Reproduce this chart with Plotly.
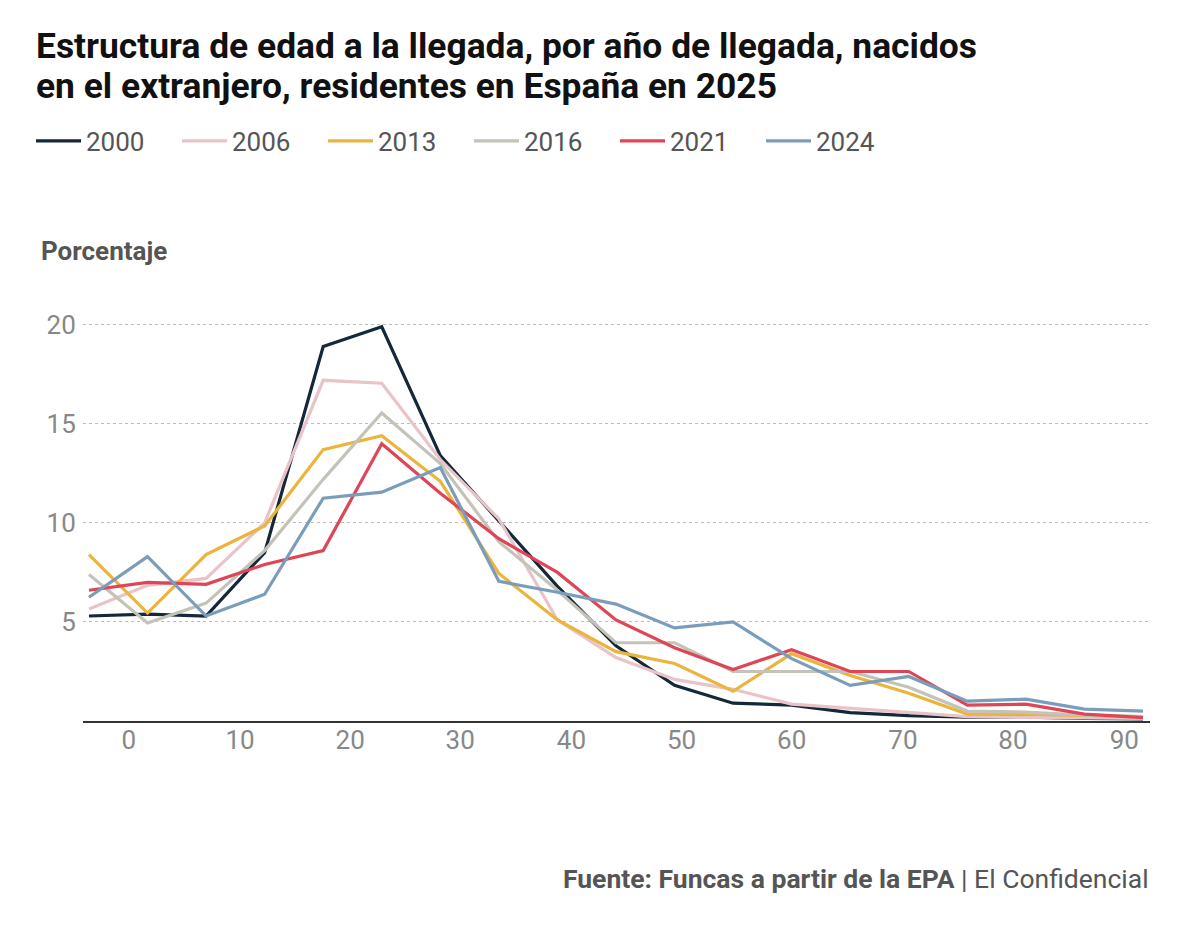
import plotly.graph_objects as go

# age at arrival (start of 5-year group)
ages = [0, 5, 10, 15, 20, 25, 30, 35, 40, 45, 50, 55, 60, 65, 70, 75, 80, 85, 90]

y2000 = [5.3, 5.4, 5.3, 8.5, 18.9, 19.9, 13.4, 10.1, 6.8, 3.8, 1.8, 0.9, 0.8, 0.42, 0.27, 0.2, 0.2, 0.13, 0.1]
y2006 = [5.65, 6.85, 7.2, 10.0, 17.2, 17.05, 13.2, 10.2, 5.1, 3.2, 2.1, 1.6, 0.85, 0.64, 0.4, 0.22, 0.18, 0.17, 0.13]
y2013 = [8.4, 5.45, 8.4, 9.85, 13.7, 14.4, 12.1, 7.45, 5.1, 3.5, 2.9, 1.5, 3.4, 2.3, 1.4, 0.35, 0.35, 0.27, 0.22]
y2016 = [7.4, 4.95, 5.95, 8.6, 12.2, 15.55, 13.0, 9.05, 6.6, 3.95, 3.95, 2.5, 2.5, 2.5, 1.7, 0.5, 0.45, 0.3, 0.22]
y2021 = [6.6, 7.0, 6.9, 7.9, 8.6, 14.0, 11.5, 9.2, 7.5, 5.1, 3.7, 2.6, 3.6, 2.5, 2.5, 0.8, 0.85, 0.35, 0.17]
y2024 = [6.25, 8.3, 5.3, 6.4, 11.25, 11.55, 12.8, 7.05, 6.5, 5.9, 4.7, 5.0, 3.15, 1.8, 2.25, 1.0, 1.1, 0.6, 0.5]

series = ['2000', '2006', '2013', '2016', '2021', '2024']
colors = ['#14283a', '#e8c3c8', '#ebb43c', '#c4c3b8', '#de4657', '#7b9dbc']

# the x labels in the original sit slightly off the data grid
tick_labels = ['0', '10', '20', '30', '40', '50', '60', '70', '80', '90']
tick_pos = [3.4, 12.9, 22.3, 31.7, 41.2, 50.6, 60.0, 69.5, 78.9, 88.4]

y_ticks = [5, 10, 15, 20]

font = 'Roboto'

# page is drawn with an 8px body margin, plot area = 83..1150 x 305..721 on the page
L, R, T, B = 75, 58, 297, 223
PW, PH = 1200 - L - R, 936 - T - B


def px(xp):
    return (xp - 8 - L) / PW


def py(yp):
    return (936 - B - (yp - 8)) / PH


fig = go.Figure()
for name, vals, col in zip(series, [y2000, y2006, y2013, y2016, y2021, y2024], colors):
    fig.add_trace(go.Scatter(x=ages, y=vals, name=name, mode='lines',
                             line=dict(color=col, width=3.2)))

fig.update_layout(
    width=1200, height=936,
    paper_bgcolor='white', plot_bgcolor='white',
    margin=dict(l=L, r=R, t=T, b=B),
    font=dict(family=font, color='#555555'),
    legend=dict(
        orientation='h', x=px(31), xanchor='left', y=py(141), yanchor='middle',
        font=dict(size=26, color='#555555'),
        entrywidth=86, entrywidthmode='pixels', itemwidth=45,
        bgcolor='rgba(0,0,0,0)',
    ),
    showlegend=True,
)

fig.update_xaxes(
    range=[-0.51, 90.6], tickvals=tick_pos, ticktext=tick_labels,
    showgrid=False, zeroline=False,
    showline=True, linecolor='#333333', linewidth=2,
    ticks='', ticklabelstandoff=-5,
    tickfont=dict(size=26, color='#888888'),
)
fig.update_yaxes(
    range=[0, 21], tickvals=y_ticks,
    showgrid=True, gridcolor='#bbbbbb', gridwidth=1, griddash='3px,3px',
    zeroline=False, showline=False,
    ticks='outside', ticklen=1, tickcolor='rgba(0,0,0,0)',
    tickfont=dict(size=26, color='#888888'),
)

title_lines = ['Estructura de edad a la llegada, por año de llegada, nacidos',
               'en el extranjero, residentes en España en 2025']
for line, yp in zip(title_lines, [46, 86]):
    fig.add_annotation(
        text='<b>' + line + '</b>', xref='paper', yref='paper',
        x=px(34), y=py(yp), xanchor='left', yanchor='middle', showarrow=False,
        font=dict(size=35.4, color='#111111'),
    )

fig.add_annotation(
    text='<b>Porcentaje</b>', xref='paper', yref='paper',
    x=px(39), y=py(251), xanchor='left', yanchor='middle', showarrow=False,
    font=dict(size=26, color='#555555'),
)
fig.add_annotation(
    text='<b>Fuente: Funcas a partir de la EPA</b> | El Confidencial',
    xref='paper', yref='paper', x=px(1151), y=py(878), xanchor='right', yanchor='middle',
    showarrow=False, font=dict(size=26.5, color='#555555'),
)

fig.write_html('out.html')
